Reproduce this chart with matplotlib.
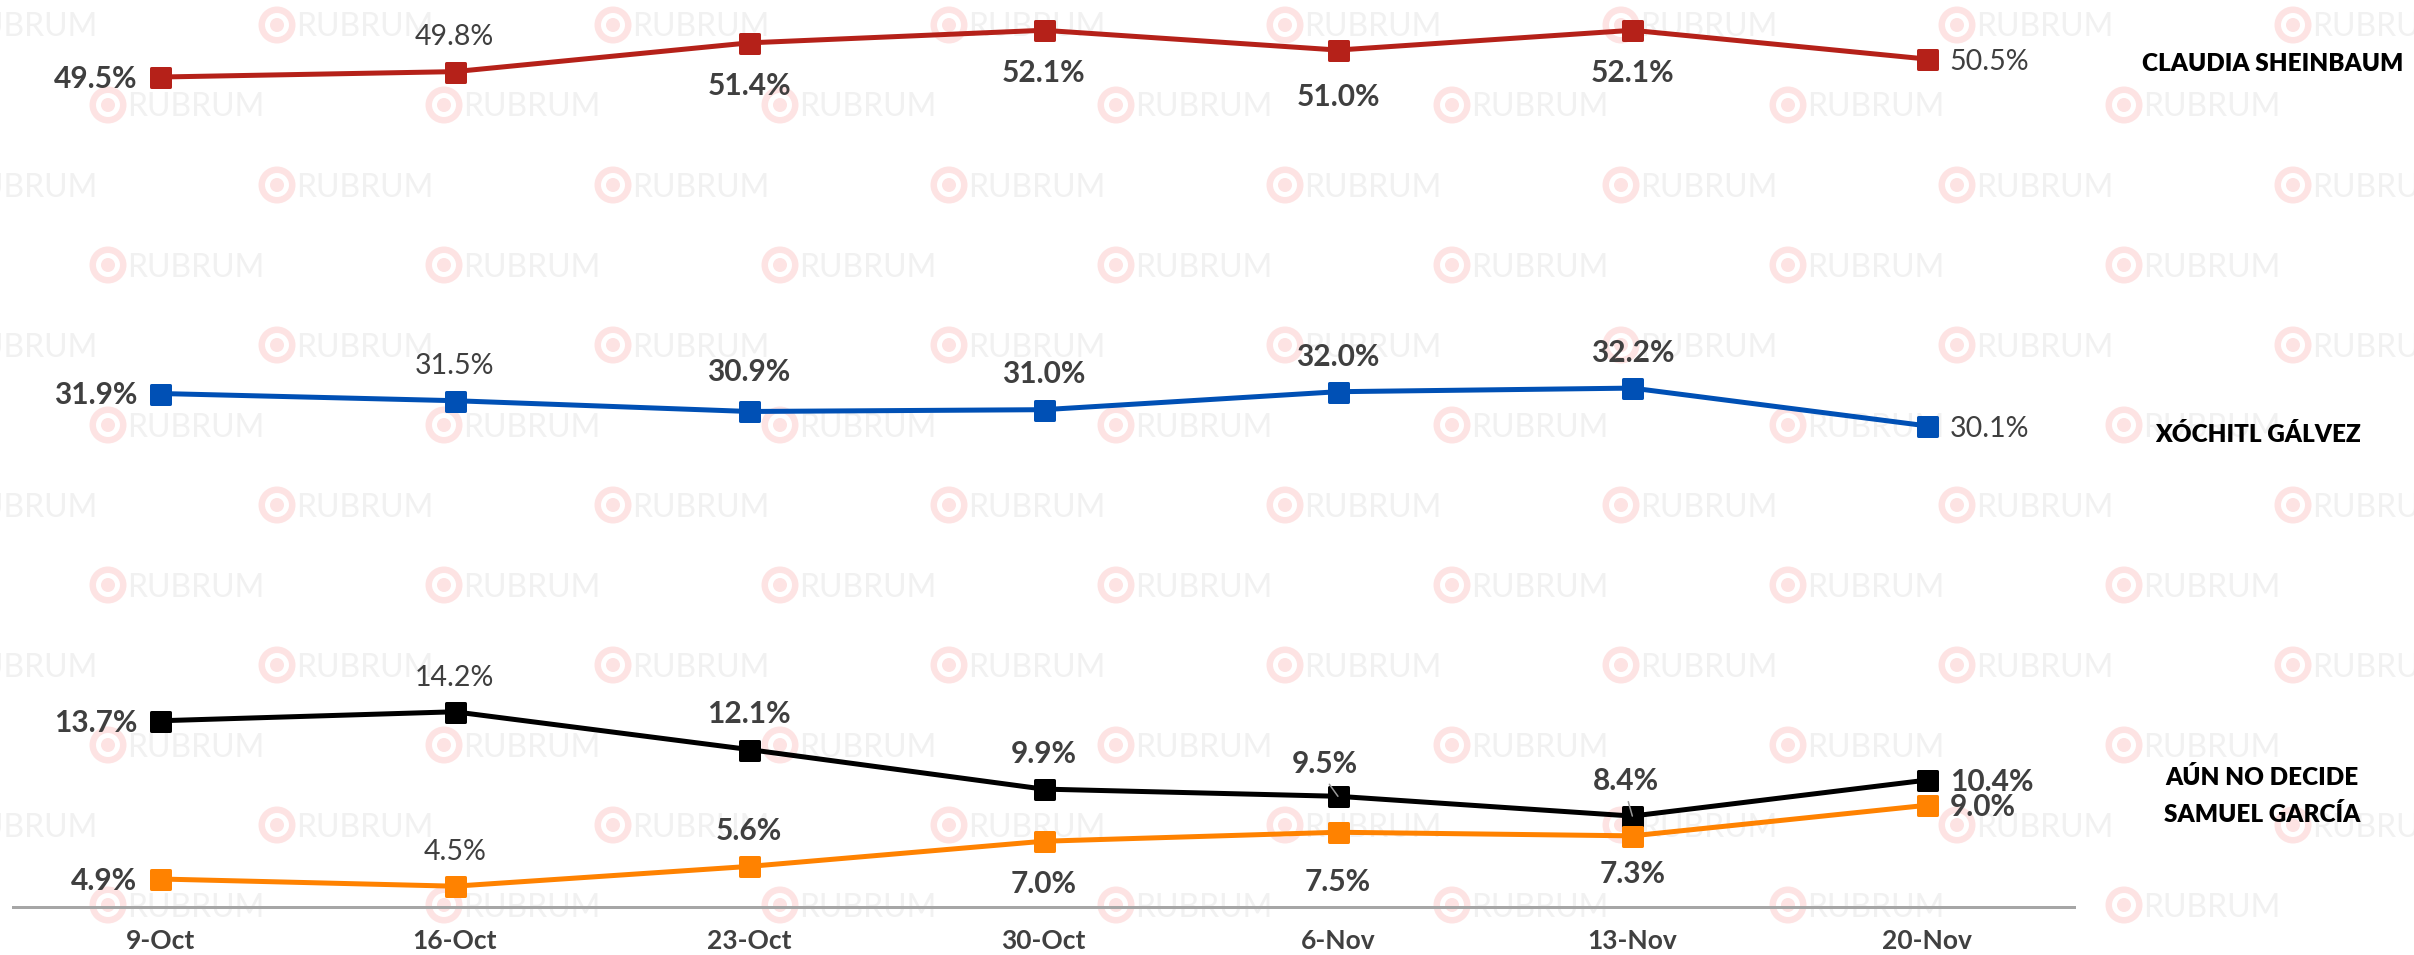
import matplotlib
matplotlib.use('Agg')
import matplotlib.pyplot as plt
from matplotlib.patches import Circle
from matplotlib.markers import MarkerStyle

# ---------------- data ----------------
dates = ['9-Oct', '16-Oct', '23-Oct', '30-Oct', '6-Nov', '13-Nov', '20-Nov']
sheinbaum = [49.5, 49.8, 51.4, 52.1, 51.0, 52.1, 50.5]
galvez = [31.9, 31.5, 30.9, 31.0, 32.0, 32.2, 30.1]
no_decide = [13.7, 14.2, 12.1, 9.9, 9.5, 8.4, 10.4]
garcia = [4.9, 4.5, 5.6, 7.0, 7.5, 7.3, 9.0]
names = ['CLAUDIA SHEINBAUM', 'XÓCHITL GÁLVEZ', 'AÚN NO DECIDE', 'SAMUEL GARCÍA']

# ---------------- styles / placement ----------------
colors = ['#B52119', '#0050B5', '#000000', '#FF8200']
# label position per point: L=left, R=right, A=above, B=below
label_pos = ['LABBBBR', 'LAAAAAR', 'LAAAAAR', 'LAABBBR']
label_bold = ['1011110', '1011110', '1011111', '1011111']
# per-point pixel offsets overrides (series, index) -> (dx, dy_center)
overrides = {(0, 4): (0, -45), (3, 4): (0, -48), (3, 5): (0, -36),
             (2, 4): (-13, 34), (2, 5): (-6, 37), (1, 2): (0, 41)}
leaders = [(2, 4), (2, 5)]
name_offsets = [(346, -3), (331, -7), (335, 4), (335, -8)]

W, H = 2414, 955
fig = plt.figure(figsize=(W / 100, H / 100), dpi=100)
fig.patch.set_facecolor('white')

# ---------------- watermark background ----------------
bg = fig.add_axes([0, 0, 1, 1], zorder=0)
bg.set_xlim(0, W)
bg.set_ylim(H, 0)
bg.axis('off')
pink = '#FDE3E3'
for k in range(12):
    y = 25 + 80 * k
    x0 = -59 if k % 2 == 0 else 108
    x = x0
    while x < W + 40:
        bg.add_patch(Circle((x, y), 18.5, color=pink, lw=0))
        bg.add_patch(Circle((x, y), 12.0, color='white', lw=0))
        bg.add_patch(Circle((x, y), 7.0, color=pink, lw=0))
        bg.text(x + 19, y + 11.5, 'RUBRUM', fontsize=23, family='Lato',
                color='#F1F1F1', ha='left', va='baseline')
        x += 336

# ---------------- main chart ----------------
left = 13 / W
right = 2074 / W
bottom = (H - 907) / H
top = (H - 6.9) / H
ax = fig.add_axes([left, bottom, right - left, top - bottom], zorder=1)
ax.set_facecolor('none')
ax.set_xlim(-0.5, 6.5)
ax.set_ylim(3.343, 53.4)

series = [sheinbaum, galvez, no_decide, garcia]
xs = list(range(len(dates)))
px = 0.72  # points per pixel
ms = MarkerStyle('s', joinstyle='round')
for si, (vals, col) in enumerate(zip(series, colors)):
    ax.plot(xs, vals, color=col, lw=5 * px, marker=ms, ms=19 * px,
            mew=3 * px, mec=col, mfc=col, zorder=3, solid_joinstyle='round')

cap_bold = 10.8
for si, vals in enumerate(series):
    for i, v in enumerate(vals):
        pos = label_pos[si][i]
        bold = label_bold[si][i] == '1'
        if pos == 'L':
            dx, dy, ha = -23, 0, 'right'
        elif pos == 'R':
            dx, dy, ha = 23, 0, 'left'
        elif pos == 'A':
            dx, dy, ha = 0, 37, 'center'
        else:
            dx, dy, ha = 0, -41, 'center'
        if (si, i) in overrides:
            dx, dy = overrides[(si, i)]
        kw = {}
        if (si, i) in leaders:
            kw['arrowprops'] = dict(arrowstyle='-', color='#9A9A9A', lw=1.1,
                                    shrinkA=3, shrinkB=0, relpos=(0.5, 0))
        ax.annotate(f'{v:.1f}%', xy=(i, v), xytext=(dx, dy - cap_bold),
                    textcoords='offset pixels', ha=ha, va='baseline',
                    fontsize=21.5 if bold else 20.5, family='Lato',
                    fontweight='bold' if bold else 'normal',
                    color='#3F3F3F', zorder=5, annotation_clip=False, **kw)

for si, vals in enumerate(series):
    dx, dy = name_offsets[si]
    ax.annotate(names[si], xy=(len(vals) - 1, vals[-1]), xytext=(dx, dy - 8.8),
                textcoords='offset pixels', ha='center', va='baseline',
                fontsize=17.5, family='Lato', fontweight='heavy',
                color='#000000', zorder=5, annotation_clip=False)

ax.set_xticks(xs)
ax.set_xticklabels(dates, family='Lato', fontweight='bold', fontsize=19,
                   color='#404040')
ax.tick_params(axis='x', length=0, pad=16)
ax.set_yticks([])
for s in ['left', 'right', 'top']:
    ax.spines[s].set_visible(False)
ax.spines['bottom'].set_color('#A6A6A6')
ax.spines['bottom'].set_linewidth(3 * px)

fig.savefig('out.png', dpi=100, facecolor='white')
